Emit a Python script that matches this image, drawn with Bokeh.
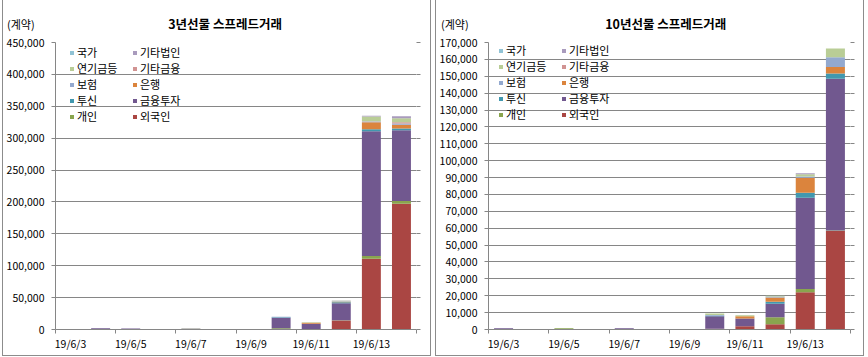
from bokeh.plotting import figure
from bokeh.models import (ColumnDataSource, Range1d, FixedTicker, NumeralTickFormatter,
                          LinearAxis, Legend, LegendItem, Title, Div)
from bokeh.layouts import row
from bokeh.embed import file_html
from bokeh.resources import INLINE

FONT = "Noto Sans CJK KR"
GRAY = "#868686"

dates = ["19/6/3", "19/6/4", "19/6/5", "19/6/6", "19/6/7", "19/6/8",
         "19/6/9", "19/6/10", "19/6/11", "19/6/12", "19/6/13", "19/6/14"]
tick_labels = ["19/6/3", "19/6/5", "19/6/7", "19/6/9", "19/6/11", "19/6/13"]
unit_text = "(계약)"

series_names = ["외국인", "개인", "금융투자", "투신", "은행", "보험", "기타금융", "연기금등", "기타법인", "국가"]
colors = ["#AA4643", "#89A54E", "#71588F", "#4198AF", "#DB843D", "#93A9CF",
          "#D19392", "#B9CD96", "#A99BBD", "#91C3D5"]
legend_order = ["국가", "연기금등", "보험", "투신", "개인",
                "기타법인", "기타금융", "은행", "금융투자", "외국인"]

# 3년선물 스프레드거래 (계약)
y3_foreign = [0, 0, 0, 0, 0, 0, 0, 0, 300, 14000, 111000, 197300]
y3_indiv   = [0, 0, 0, 0, 1200, 0, 0, 1800, 300, 600, 4300, 4200]
y3_fininv  = [0, 1800, 1500, 0, 300, 0, 0, 16500, 8300, 26500, 195500, 111000]
y3_trust   = [0, 0, 0, 0, 0, 0, 0, 1000, 0, 1800, 3000, 2600]
y3_bank    = [0, 0, 0, 0, 0, 0, 0, 0, 1500, 800, 11000, 5800]
y3_insur   = [0, 0, 0, 0, 0, 0, 0, 800, 0, 700, 1500, 2000]
y3_othfin  = [0, 0, 0, 0, 0, 0, 0, 0, 0, 0, 300, 2000]
y3_pension = [0, 0, 0, 0, 0, 0, 0, 0, 800, 600, 7500, 6300]
y3_othcorp = [0, 0, 0, 0, 0, 0, 0, 0, 0, 300, 1000, 3000]
y3_govt    = [0, 0, 0, 0, 0, 0, 0, 0, 0, 0, 0, 0]

# 10년선물 스프레드거래 (계약)
y10_foreign = [0, 0, 0, 0, 0, 0, 0, 400, 1900, 3100, 22000, 58400]
y10_indiv   = [0, 0, 700, 0, 0, 0, 0, 0, 0, 4200, 2000, 300]
y10_fininv  = [700, 0, 0, 0, 700, 0, 0, 7400, 4600, 7900, 54000, 89800]
y10_trust   = [0, 0, 0, 0, 0, 0, 0, 300, 0, 1300, 3000, 3100]
y10_bank    = [0, 0, 0, 0, 0, 0, 0, 0, 1300, 2400, 8900, 3900]
y10_insur   = [0, 0, 0, 0, 0, 0, 0, 500, 0, 600, 800, 5700]
y10_othfin  = [0, 0, 0, 0, 0, 0, 0, 0, 0, 0, 0, 0]
y10_pension = [0, 0, 0, 0, 0, 0, 0, 900, 600, 500, 1200, 5300]
y10_othcorp = [0, 0, 0, 0, 0, 0, 0, 0, 0, 0, 600, 0]
y10_govt    = [0, 0, 0, 0, 0, 0, 0, 0, 0, 0, 0, 0]

y3_values = [y3_foreign, y3_indiv, y3_fininv, y3_trust, y3_bank, y3_insur,
             y3_othfin, y3_pension, y3_othcorp, y3_govt]
y10_values = [y10_foreign, y10_indiv, y10_fininv, y10_trust, y10_bank, y10_insur,
              y10_othfin, y10_pension, y10_othcorp, y10_govt]


def make_chart(title, values, ymax, ystep, width, height, bl, br, bt, bb,
               title_offset, legend_loc, legend_spacing, left_margin):
    data = {"x": list(range(len(dates)))}
    for name, vals in zip(series_names, values):
        data[name] = vals
    src = ColumnDataSource(data)

    p = figure(width=width, height=height, output_backend="svg", toolbar_location=None,
               x_range=Range1d(-0.5, len(dates) - 0.5), y_range=Range1d(0, ymax),
               min_border_left=bl, min_border_right=br, min_border_top=bt,
               min_border_bottom=bb, margin=(0, 0, 0, left_margin))
    p.outline_line_color = None
    p.background_fill_color = "white"
    p.border_fill_color = "white"
    p.styles = {"border-left": "1px solid #8c8c8c", "border-right": "1px solid #8c8c8c",
                "border-bottom": "1px solid #8c8c8c", "box-sizing": "border-box"}

    rends = p.vbar_stack(series_names, x="x", width=0.63, source=src,
                         fill_color=colors, line_color=None)

    tick_idx = [i for i, d in enumerate(dates) if d in tick_labels]
    minor = [i - 0.5 for i in tick_idx] + [len(dates) - 0.5]
    xa = p.xaxis[0]
    xa.ticker = FixedTicker(ticks=tick_idx, minor_ticks=minor)
    xa.major_label_overrides = {i: dates[i] for i in tick_idx}
    xa.major_tick_line_color = None
    xa.major_tick_out = 0
    xa.major_tick_in = 0
    xa.minor_tick_out = 4
    xa.minor_tick_in = 0
    xa.minor_tick_line_color = GRAY
    xa.axis_line_color = GRAY
    xa.major_label_standoff = 2
    xa.major_label_text_font = FONT
    xa.major_label_text_font_size = "10.5px"
    xa.major_label_text_color = "black"

    yticks = list(range(0, ymax + 1, ystep))
    ya = p.yaxis[0]
    ya.ticker = FixedTicker(ticks=yticks)
    ya.formatter = NumeralTickFormatter(format="0,0")
    ya.axis_line_color = GRAY
    ya.major_tick_line_color = GRAY
    ya.major_tick_out = 4
    ya.major_tick_in = 0
    ya.minor_tick_line_color = None
    ya.major_label_standoff = 7
    ya.major_label_text_font = FONT
    ya.major_label_text_font_size = "10.5px"
    ya.major_label_text_color = "black"

    ra = LinearAxis(ticker=FixedTicker(ticks=yticks),
                    major_label_overrides={t: "" for t in yticks})
    ra.axis_line_color = None
    ra.major_tick_line_color = GRAY
    ra.major_tick_out = 4
    ra.major_tick_in = 0
    ra.minor_tick_line_color = None
    p.add_layout(ra, "right")

    p.xgrid.grid_line_color = None
    p.ygrid.grid_line_color = GRAY
    p.ygrid.grid_line_width = 1

    p.title = Title(text=title, align="left", offset=title_offset,
                    text_font=FONT, text_font_size="12.5px", text_font_style="bold",
                    text_color="black", standoff=19)

    items = [LegendItem(label=n, renderers=[rends[series_names.index(n)]])
             for n in legend_order]
    leg = Legend(items=items, ncols=2, location=legend_loc,
                 label_text_font=FONT, label_text_font_size="11px",
                 label_text_color="black", glyph_width=5, glyph_height=5,
                 label_standoff=3, label_height=15, label_width=55,
                 spacing=legend_spacing, padding=0, margin=0,
                 border_line_color=None, background_fill_alpha=0)
    p.add_layout(leg)
    return p


def unit_div(left, top):
    return Div(text=unit_text, margin=(0, 0, 0, 0),
               styles={"position": "absolute", "left": f"{left}px", "top": f"{top}px",
                       "font-family": FONT, "font-size": "11px", "line-height": "14px",
                       "color": "black", "white-space": "nowrap", "z-index": "5"})


p1 = make_chart("3년선물 스프레드거래", y3_values, 450000, 50000,
                429, 356, 52, 16, 42, 27, 112.7, (14, 205), -2, 2)
p2 = make_chart("10년선물 스프레드거래", y10_values, 170000, 10000,
                429, 356, 49, 15, 41, 27, 116.7, (10, 207), -2, 0)

layout = row(p1, p2, unit_div(7, 17), unit_div(441, 17), spacing=4)
open("out.html", "w").write(file_html(layout, INLINE))
